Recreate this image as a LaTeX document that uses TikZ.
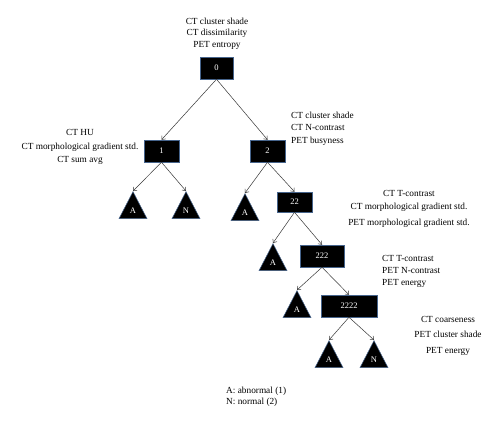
\documentclass[tikz,border=0pt]{standalone}
\usepackage{fontspec}
\setmainfont{Liberation Serif}
\usetikzlibrary{arrows.meta,shapes.geometric}
\definecolor{edgeblue}{RGB}{70,100,140}
\definecolor{arrgray}{RGB}{55,55,55}
\begin{document}
\begin{tikzpicture}[x=1pt,y=-1pt,
  box/.style={draw=edgeblue, line width=0.5pt, fill=black, text=white,
    minimum height=22pt, inner sep=0pt, font=\fontsize{8.5}{10}\selectfont},
  leaf/.style={isosceles triangle, shape border rotate=90, isosceles triangle stretches,
    draw=edgeblue, line width=0.5pt, fill=black, text=white,
    minimum width=28pt, minimum height=27pt, inner sep=0pt, anchor=apex,
    font=\fontsize{8.5}{10}\selectfont},
  lbl/.style={inner sep=0pt, font=\fontsize{9.3}{12}\selectfont},
  arr/.style={-{Straight Barb[length=3pt,width=5pt]}, draw=arrgray, line width=0.5pt}]
\useasboundingbox (0,0) rectangle (500,424);
\fill[white] (0,0) rectangle (500,424);
% decision boxes
\node[box, minimum width=33pt] (n0) at (216.5,68) {0};
\node[box, minimum width=35pt] (n1) at (161.5,151) {1};
\node[box, minimum width=35pt] (n2) at (267.5,151) {2};
\node[box, minimum width=35pt, minimum height=20pt] (n22) at (294.5,202) {22};
\node[box, minimum width=44pt] (n222) at (322,256) {222};
\node[box, minimum width=56pt] (n2222) at (349,306) {2222};
% leaves
\node[leaf] (a1) at (133,191) {A};
\node[leaf] (b1) at (186,191) {N};
\node[leaf] (a2) at (245,193) {A};
\node[leaf] (a22) at (273,243) {A};
\node[leaf] (a222) at (297,290) {A};
\node[leaf] (a2222) at (329,340) {A};
\node[leaf] (b2222) at (374,340) {N};
% connectors
\draw[arr] (n0.south) -- (n1.north);
\draw[arr] (n0.south) -- (n2.north);
\draw[arr] (n1.south) -- (a1.apex);
\draw[arr] (n1.south) -- (b1.apex);
\draw[arr] (n2.south) -- (a2.apex);
\draw[arr] (n2.south) -- (n22.north);
\draw[arr] (n22.south) -- (a22.apex);
\draw[arr] (n22.south) -- (n222.north);
\draw[arr] (n222.south) -- (a222.apex);
\draw[arr] (n222.south) -- (n2222.north);
\draw[arr] (n2222.south) -- (a2222.apex);
\draw[arr] (n2222.south) -- (b2222.apex);
% labels
\node[lbl, align=center, font=\fontsize{9.3}{11.5}\selectfont] (l0) at (217,33.5) {CT cluster shade\\CT dissimilarity\\PET entropy};
\node[lbl, align=center, font=\fontsize{9.3}{13.5}\selectfont] (l1) at (80,147) {CT HU\\CT morphological gradient std.\\CT sum avg};
\node[lbl, align=left, anchor=west, font=\fontsize{9.3}{12.5}\selectfont] (l2) at (291,128.5) {CT cluster shade\\CT N-contrast\\PET busyness};
\node[lbl, align=center, font=\fontsize{9.3}{13}\selectfont] (l22) at (409,208.5) {CT T-contrast\\CT morphological gradient std.\\[3pt]PET morphological gradient std.};
\node[lbl, align=left, anchor=west, font=\fontsize{9.3}{12}\selectfont] (l222) at (382,271) {CT T-contrast\\PET N-contrast\\PET energy};
\node[lbl, align=center, font=\fontsize{9.3}{15.5}\selectfont] (l2222) at (448,335.5) {CT coarseness\\PET cluster shade\\PET energy};
\node[lbl, align=left, anchor=west, font=\fontsize{9.3}{11}\selectfont] (leg) at (226,396.5) {A: abnormal (1)\\N: normal (2)};
\end{tikzpicture}
\end{document}
